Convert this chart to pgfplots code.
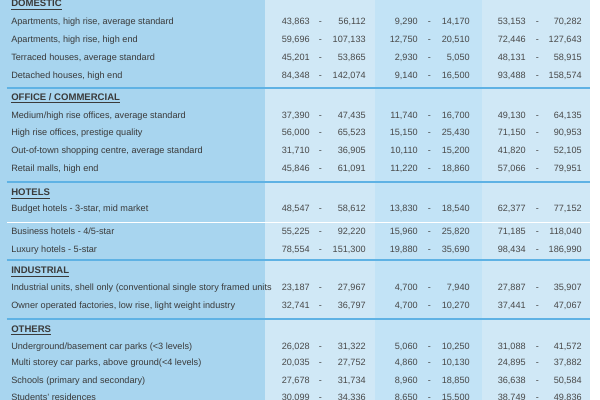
\documentclass[border=0pt]{standalone}
\usepackage{pgfplots}
\pgfplotsset{compat=1.18}
\usepackage{pgfplotstable}
\usepackage{fontspec}
\setmainfont{Liberation Sans}
\definecolor{colA}{RGB}{168,213,239}
\definecolor{colB}{RGB}{208,232,246}
\definecolor{colC}{RGB}{194,227,246}
\definecolor{sepline}{RGB}{95,178,228}
\definecolor{txt}{RGB}{58,58,58}
\definecolor{num}{RGB}{72,72,72}

% y = vertical centre of the row (pixels from the top)
\pgfplotstableread{
y     lo1    hi1    lo2   hi2   lo3    hi3
21.3  43863  56112  9290  14170 53153  70282
39.2  59696  107133 12750 20510 72446  127643
57.2  45201  53865  2930  5050  48131  58915
75.2  84348  142074 9140  16500 93488  158574
115.0 37390  47435  11740 16700 49130  64135
132.7 56000  65523  15150 25430 71150  90953
150.7 31710  36905  10110 15200 41820  52105
168.7 45846  61091  11220 18860 57066  79951
208.3 48547  58612  13830 18540 62377  77152
231.7 55225  92220  15960 25820 71185  118040
249.0 78554  151300 19880 35690 98434  186990
287.0 23187  27967  4700  7940  27887  35907
305.0 32741  36797  4700  10270 37441  47067
346.7 26028  31322  5060  10250 31088  41572
362.7 20035  27752  4860  10130 24895  37882
380.0 27678  31734  8960  18850 36638  50584
397.8 30099  34336  8650  15500 38749  49836
}\datatable

\newcommand{\lab}[2]{\node[anchor=base west, text=txt, inner sep=0pt, font=\fontsize{6.6}{8}\selectfont] at (axis cs:11,#1+3.2) {#2};}
\newcommand{\hdr}[2]{\node[anchor=base west, text=txt, inner sep=0pt, font=\fontsize{6.9}{8}\selectfont\bfseries] at (axis cs:11,#1+3.3) {\underline{#2}};}

\begin{document}
\begin{tikzpicture}
\path[use as bounding box] (0,0) rectangle (433.62pt,289.08pt);
\clip (0,0) rectangle (433.62pt,289.08pt);
\begin{axis}[
  at={(0pt,289.08pt)}, anchor=origin,
  scale only axis, width=433.62pt, height=289.08pt,
  xmin=0, xmax=600, ymin=0, ymax=400, y dir=reverse,
  hide axis, clip=false,
  /pgf/number format/.cd, fixed, precision=0, 1000 sep={,}, assume math mode=true,
]
% backgrounds
\fill[colA] (axis cs:0,0) rectangle (axis cs:265,400);
\fill[colB] (axis cs:265,0) rectangle (axis cs:375,400);
\fill[colC] (axis cs:375,0) rectangle (axis cs:482,400);
\fill[colB] (axis cs:482,0) rectangle (axis cs:590,400);
\fill[white] (axis cs:590,0) rectangle (axis cs:600,400);
% separators
\draw[sepline, line width=1.45pt] (axis cs:7,88.3) -- (axis cs:590,88.3);
\draw[sepline, line width=1.45pt] (axis cs:7,181.7) -- (axis cs:590,181.7);
\draw[sepline, line width=1.45pt] (axis cs:7,260) -- (axis cs:590,260);
\draw[sepline, line width=1.45pt] (axis cs:7,319.3) -- (axis cs:590,319.3);
\draw[white, line width=1.1pt] (axis cs:7,222.3) -- (axis cs:590,222.3);

% headers
\hdr{3.5}{DOMESTIC}
\hdr{97.3}{OFFICE / COMMERCIAL}
\hdr{192.7}{HOTELS}
\hdr{270.7}{INDUSTRIAL}
\hdr{329.3}{OTHERS}
% row labels
\lab{21}{Apartments, high rise, average standard}
\lab{39}{Apartments, high rise, high end}
\lab{57}{Terraced houses, average standard}
\lab{75}{Detached houses, high end}
\lab{115}{Medium/high rise offices, average standard}
\lab{132.7}{High rise offices, prestige quality}
\lab{150.7}{Out-of-town shopping centre, average standard}
\lab{168.7}{Retail malls, high end}
\lab{208.3}{Budget hotels - 3-star, mid market}
\lab{231.7}{Business hotels - 4/5-star}
\lab{249}{Luxury hotels - 5-star}
\lab{287}{Industrial units, shell only (conventional single story framed units}
\lab{305}{Owner operated factories, low rise, light weight industry}
\lab{346.7}{Underground/basement car parks (<3 levels)}
\lab{362.7}{Multi storey car parks, above ground(<4 levels)}
\lab{380}{Schools (primary and secondary)}
\lab{397.8}{Students' residences}

\pgfplotsset{numstyle/.style={draw=none, mark=none, point meta=explicit,
  nodes near coords, nodes near coords style={anchor=base east, text=num, inner sep=0pt,
  font=\fontsize{6.6}{8}\selectfont, yshift=-2.3pt}}}
\pgfplotsset{dashstyle/.style={draw=none, mark=none, nodes near coords={-},
  nodes near coords style={anchor=base, text=num, inner sep=0pt,
  font=\fontsize{6.6}{8}\selectfont, yshift=-2.3pt}}}

\addplot[numstyle] table[x expr=310, y=y, meta=lo1] {\datatable};
\addplot[dashstyle] table[x expr=320.5, y=y] {\datatable};
\addplot[numstyle] table[x expr=366, y=y, meta=hi1] {\datatable};
\addplot[numstyle] table[x expr=418, y=y, meta=lo2] {\datatable};
\addplot[dashstyle] table[x expr=429.5, y=y] {\datatable};
\addplot[numstyle] table[x expr=470, y=y, meta=hi2] {\datatable};
\addplot[numstyle] table[x expr=526, y=y, meta=lo3] {\datatable};
\addplot[dashstyle] table[x expr=537.5, y=y] {\datatable};
\addplot[numstyle] table[x expr=582, y=y, meta=hi3] {\datatable};
\end{axis}
\end{tikzpicture}
\end{document}
